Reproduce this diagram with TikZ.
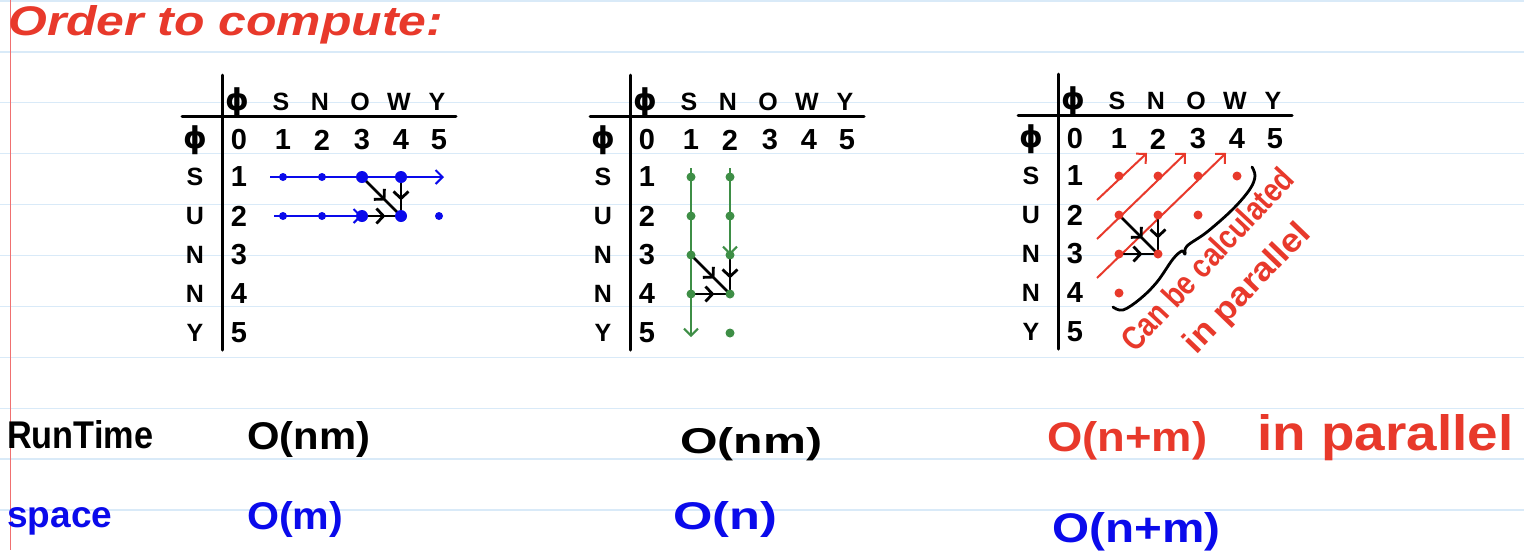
\documentclass[tikz,border=0pt]{standalone}
\usepackage{fontspec}
\setmainfont{Liberation Sans}
\newfontfamily\dvs{DejaVu Sans}
\usetikzlibrary{arrows.meta,decorations.markings,calc}
\definecolor{hred}{HTML}{E8392B}
\definecolor{hblue}{HTML}{0A0AEB}
\definecolor{hgreen}{HTML}{3E8E46}
\definecolor{rulec}{HTML}{D9EAF8}
\definecolor{marginc}{HTML}{F07070}
\newcommand\emp{{\dvs\bfseries\fontsize{30}{30}\selectfont ϕ}}
\newcommand\hw[3]{\resizebox{#1pt}{#2pt}{\bfseries #3}}
\newcommand\dptable{%
  \foreach \x [count=\c from 0] in {17,61,100,140,179,217}
    \foreach \y [count=\r from 0] in {140,177,216,255,294,333}
      \coordinate (\c-\r) at (\x,\y);
  \coordinate (vt) at (0,75); \coordinate (vb) at (0,350);
  \coordinate (hl) at (-40,116); \coordinate (hr) at (234,116);
  \draw[tbl] (vt) -- (vb);
  \draw[tbl] (hl) -- (hr);
  \foreach \l [count=\c from 0] in {\emp,S,N,O,W,Y}
    \node[hd] (h\c) at ($(\c-0)+(-2,-38)$) {\l};
  \foreach \l [count=\r from 0] in {\emp,S,U,N,N,Y}
    \node[hd] (l\r) at ($(0-\r)+(-44,0)$) {\l};
  \foreach \c in {0,...,5} \node[num] (n\c) at (\c-0) {\c};
  \foreach \r in {1,...,5} \node[num] (m\r) at (0-\r) {\r};
}
\begin{document}
\begin{tikzpicture}[x=1pt,y=-1pt,
  tbl/.style={line width=3pt,line cap=round},
  hd/.style={font=\fontsize{25}{25}\selectfont\bfseries,inner sep=0},
  num/.style={font=\fontsize{29}{29}\selectfont\bfseries,inner sep=0},
  dot/.style={circle,fill,inner sep=0,minimum size=8pt},
  bigdot/.style={dot,minimum size=12pt},
  colarrow/.style={line width=2pt,-{Straight Barb[length=7pt,width=14pt]}},
  midarrow/.style={line width=2.8pt,postaction={decorate},
    decoration={markings,mark=at position 0.6 with {\arrow{Straight Barb[length=7pt,width=15pt]}}}},
  lbl/.style={anchor=base west,inner sep=0}]
\useasboundingbox (0,0) rectangle (1524,550);
\fill[white] (0,0) rectangle (1524,550);
\foreach \k in {0,...,10}
  \draw[rulec,line width=1.3pt] (0,{1+50.9*\k}) -- (1524,{1+50.9*\k});
\draw[marginc,line width=0.8pt] (10,0) -- (10,550);

% title
\node[lbl,text=hred] (title) at (8,35) {\hw{435}{30}{\itshape Order to compute:}};

% table 1
\begin{scope}[shift={(222,0)},name prefix=a-]
  \dptable
  \coordinate (s1) at ($(1-1)+(-13,0)$);
  \coordinate (e1) at ($(5-1)+(5,0)$);
  \coordinate (s2) at ($(1-2)+(-9,0)$);
  \draw[colarrow,hblue] (s1) -- (e1);
  \draw[colarrow,hblue] (s2) -- (3-2);
  \draw[midarrow] (3-2) -- (4-2);
  \draw[midarrow] (3-1) -- (4-2);
  \draw[midarrow] (4-1) -- (4-2);
  \foreach \p in {1-1,2-1,1-2,2-2,5-2} \node[dot,hblue] (d\p) at (\p) {};
  \foreach \p in {3-1,4-1,3-2,4-2} \node[bigdot,hblue] (d\p) at (\p) {};
\end{scope}

% table 2
\begin{scope}[shift={(630,0)},name prefix=b-]
  \dptable
  \coordinate (g1s) at ($(1-1)+(0,-9)$);
  \coordinate (g1e) at ($(1-5)+(0,4)$);
  \coordinate (g2s) at ($(2-1)+(0,-9)$);
  \draw[colarrow,hgreen] (g1s) -- (g1e);
  \draw[colarrow,hgreen] (g2s) -- (2-3);
  \draw[midarrow] (2-3) -- (2-4);
  \draw[midarrow] (1-3) -- (2-4);
  \draw[midarrow] (1-4) -- (2-4);
  \foreach \p in {1-1,1-2,1-3,1-4,2-1,2-2,2-3,2-4,2-5} \node[dot,hgreen,minimum size=9pt] (d\p) at (\p) {};
\end{scope}

% table 3
\begin{scope}[shift={(1058,-1)},name prefix=c-]
  \dptable
  \foreach \k in {1,2,3} {
    \coordinate (ds\k) at ($(1-\k)+(-22,24)$);
    \coordinate (de\k) at ($(\k-1)+(28,-23)$);
    \draw[colarrow,hred] (ds\k) -- (de\k);
  }
  \draw[midarrow] (1-2) -- (2-3);
  \draw[midarrow] (2-2) -- (2-3);
  \draw[midarrow] (1-3) -- (2-3);
  \foreach \p in {1-1,2-1,3-1,4-1,1-2,2-2,3-2,1-3,2-3,1-4} \node[dot,hred,minimum size=9pt] (d\p) at (\p) {};
  \draw[line width=2.8pt,line cap=round,line join=round]
    plot[smooth,tension=0.6] coordinates {(55,308) (65,311) (82,300) (99,283) (115,260) (124,252) (127,255) (129,247) (149,233) (175,210) (192,190) (197,177) (194,168)};
  \node[inner sep=0,text=hred,rotate=47] (par1) at (149,260) {\hw{236}{24}{Can be calculated}};
  \node[inner sep=0,text=hred,rotate=46] (par2) at (190,290) {\hw{167}{24}{in parallel}};
\end{scope}

% bottom labels
\node[lbl] (rt) at (7,448) {\hw{146}{28}{RunTime}};
\node[lbl] (rt1) at (247,449) {\hw{123}{28}{O(nm)}};
\node[lbl] (rt2) at (680,453) {\hw{142}{26}{O(nm)}};
\node[lbl,text=hred] (rt3) at (1047,451) {\hw{160}{30}{O(n+m)}};
\node[lbl,text=hred] (rt4) at (1257,450) {\hw{256}{36}{in parallel}};
\node[lbl,text=hblue] (sp) at (7,527) {\hw{105}{20}{space}};
\node[lbl,text=hblue] (sp1) at (247,529) {\hw{96}{28}{O(m)}};
\node[lbl,text=hblue] (sp2) at (673,529) {\hw{104}{28}{O(n)}};
\node[lbl,text=hblue] (sp3) at (1052,542) {\hw{168}{30}{O(n+m)}};
\end{tikzpicture}
\end{document}
